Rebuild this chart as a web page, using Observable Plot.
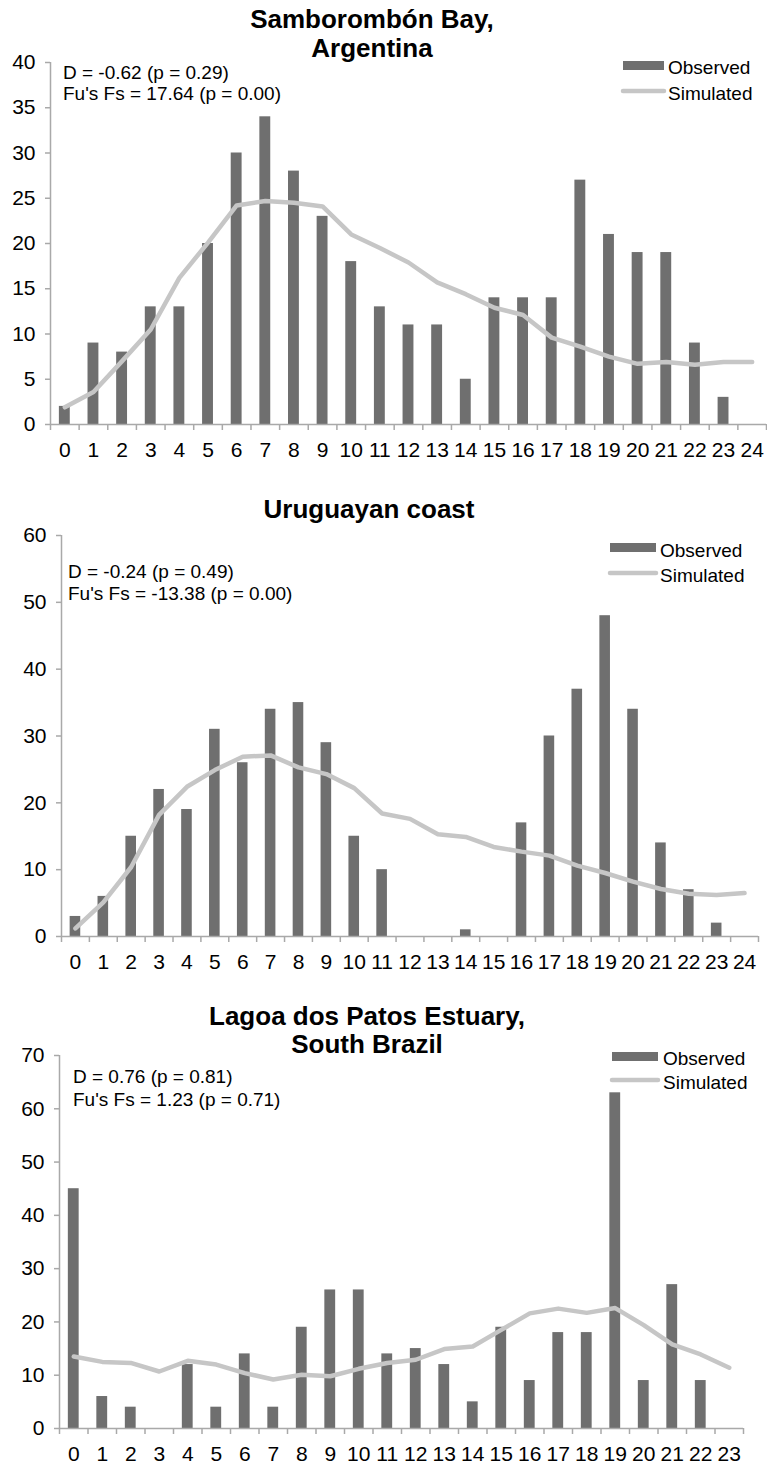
<!DOCTYPE html>
<html><head><meta charset="utf-8">
<script src="https://cdn.jsdelivr.net/npm/d3@7"></script>
<script src="https://cdn.jsdelivr.net/npm/@observablehq/plot@0.6"></script>
<style>
body{margin:0;background:#fff;}
#wrap{position:relative;width:767px;height:1467px;overflow:hidden;background:#fff;}
#wrap svg{position:absolute;left:0;}
</style></head><body><div id="wrap"></div>
<script>
// ---- Data ----
const categories1 = [0,1,2,3,4,5,6,7,8,9,10,11,12,13,14,15,16,17,18,19,20,21,22,23,24];
const observed1  = [2,9,8,13,13,20,30,34,28,23,18,13,11,11,5,14,14,14,27,21,19,19,9,3,0];
const simulated1 = [1.9,3.6,7.0,10.5,16.2,20.1,24.2,24.7,24.5,24.1,21.0,19.5,17.9,15.7,14.4,12.9,12.1,9.6,8.6,7.5,6.7,6.9,6.6,6.9,6.9];
const yTicks1 = [0,5,10,15,20,25,30,35,40];

const categories2 = [0,1,2,3,4,5,6,7,8,9,10,11,12,13,14,15,16,17,18,19,20,21,22,23,24];
const observed2  = [3,6,15,22,19,31,26,34,35,29,15,10,0,0,1,0,17,30,37,48,34,14,7,2,0];
const simulated2 = [1.2,5.1,10.4,18.2,22.4,24.9,26.9,27.1,25.3,24.3,22.2,18.4,17.6,15.3,14.9,13.4,12.7,12.1,10.6,9.5,8.2,7.1,6.4,6.2,6.5];
const yTicks2 = [0,10,20,30,40,50,60];

const categories3 = [0,1,2,3,4,5,6,7,8,9,10,11,12,13,14,15,16,17,18,19,20,21,22,23];
const observed3  = [45,6,4,0,12,4,14,4,19,26,26,14,15,12,5,19,9,18,18,63,9,27,9,0];
const simulated3 = [13.5,12.5,12.3,10.7,12.7,12.0,10.4,9.2,10.1,9.8,11.2,12.3,12.9,14.9,15.4,18.5,21.6,22.5,21.7,22.6,19.4,15.8,13.9,11.4];
const yTicks3 = [0,10,20,30,40,50,60,70];

const titles = [["Samborombón Bay,","Argentina"],["Uruguayan coast"],["Lagoa dos Patos Estuary,","South Brazil"]];
const stats = [
  ["D = -0.62 (p = 0.29)","Fu's Fs = 17.64 (p = 0.00)"],
  ["D = -0.24 (p = 0.49)","Fu's Fs = -13.38 (p = 0.00)"],
  ["D = 0.76 (p = 0.81)","Fu's Fs = 1.23 (p = 0.71)"]
];
const legendLabels = ["Observed","Simulated"];

// ---- Layout (page pixels) ----
const FONT = '"Liberation Sans", Arial, Helvetica, sans-serif';
const BAR = "#6f6f6f", LINE = "#c6c6c6", AXIS = "#a9a9a9";
const layout = [
  {top:0,   height:470, mt:62, mb:46, ml:50, mr:1,  titleX:372, titleY:[28,57], annX:63, annY:[79,100],
   legX:623, legW:41, legRectY:61, simY:91, legTX:668, legTY:[74,100]},
  {top:480, height:502, mt:55, mb:46, ml:61, mr:9,  titleX:369, titleY:[518], annX:68, annY:[578,600],
   legX:610, legW:46, legRectY:543, simY:573, legTX:660, legTY:[557,582]},
  {top:985, height:482, mt:70, mb:39, ml:59, mr:24, titleX:367, titleY:[1025,1053], annX:73, annY:[1083,1106],
   legX:612, legW:46, legRectY:1052, simY:1080, legTX:663, legTY:[1065,1089]}
];
const series = [
  {cats:categories1, obs:observed1, sim:simulated1, yTicks:yTicks1},
  {cats:categories2, obs:observed2, sim:simulated2, yTicks:yTicks2},
  {cats:categories3, obs:observed3, sim:simulated3, yTicks:yTicks3}
];

const wrap = document.getElementById("wrap");

series.forEach((s, i) => {
  const L = layout[i];
  const data = s.cats.map((k, j) => ({k, obs: s.obs[j], sim: s.sim[j]}));
  const first = s.cats[0], last = s.cats[s.cats.length - 1];
  const bounds = s.cats.map(k => k - 0.5).concat([last + 0.5]);
  const yMax = s.yTicks[s.yTicks.length - 1];
  const hw = 0.19;

  const chart = Plot.plot({
    width: 767, height: L.height,
    marginTop: L.mt, marginBottom: L.mb, marginLeft: L.ml, marginRight: L.mr,
    style: {fontFamily: FONT, fontSize: "19px", color: "#000", background: "transparent", overflow: "visible"},
    x: {type: "linear", domain: [first - 0.5, last + 0.5], label: null, axis: null},
    y: {domain: [0, yMax], label: null, axis: null},
    marks: [
      Plot.rect(data, {x1: d => d.k - hw, x2: d => d.k + hw, y1: 0, y2: "obs", fill: BAR}),
      Plot.line(data, {x: "k", y: "sim", stroke: LINE, strokeWidth: 4.5, strokeLinejoin: "round", strokeLinecap: "round"}),
      Plot.ruleX([first - 0.5], {stroke: AXIS, strokeWidth: 1.5}),
      Plot.ruleY([0], {stroke: AXIS, strokeWidth: 1.5}),
      Plot.axisY({ticks: s.yTicks, tickSize: 5, stroke: AXIS, strokeWidth: 1.5, tickFormat: () => "", label: null}),
      Plot.axisX({ticks: bounds, tickSize: 6, stroke: AXIS, strokeWidth: 1.5, tickFormat: () => "", label: null}),
      Plot.text(s.yTicks, {x: () => first - 0.5, y: d => d, text: d => String(d), dx: -15, textAnchor: "end", fontSize: 21, fill: "#000"}),
      Plot.text(s.cats, {x: d => d, y: () => 0, text: d => String(d), dy: 18, lineAnchor: "top", textAnchor: "middle", fontSize: 21, fill: "#000"})
    ]
  });
  chart.style.top = L.top + "px";
  wrap.appendChild(chart);

  const svg = d3.select(chart);
  const g = svg.append("g").attr("font-family", FONT).attr("fill", "#000").attr("text-anchor", "start");
  const off = L.top;
  // title
  titles[i].forEach((t, j) => {
    g.append("text").attr("x", L.titleX).attr("y", L.titleY[j] - off)
      .attr("text-anchor", "middle").attr("font-weight", "bold").attr("font-size", 26).text(t);
  });
  // statistics annotation
  stats[i].forEach((t, j) => {
    g.append("text").attr("x", L.annX).attr("y", L.annY[j] - off).attr("text-anchor", "start").attr("font-size", 19).text(t);
  });
  // legend
  g.append("rect").attr("x", L.legX).attr("y", L.legRectY - off).attr("width", L.legW).attr("height", 9).attr("fill", BAR);
  g.append("line").attr("x1", L.legX).attr("x2", L.legX + L.legW).attr("y1", L.simY - off).attr("y2", L.simY - off)
    .attr("stroke", LINE).attr("stroke-width", 4.5).attr("stroke-linecap", "round");
  legendLabels.forEach((t, j) => {
    g.append("text").attr("x", L.legTX).attr("y", L.legTY[j] - off).attr("text-anchor", "start").attr("font-size", 19).text(t);
  });
});
</script>
</body></html>
